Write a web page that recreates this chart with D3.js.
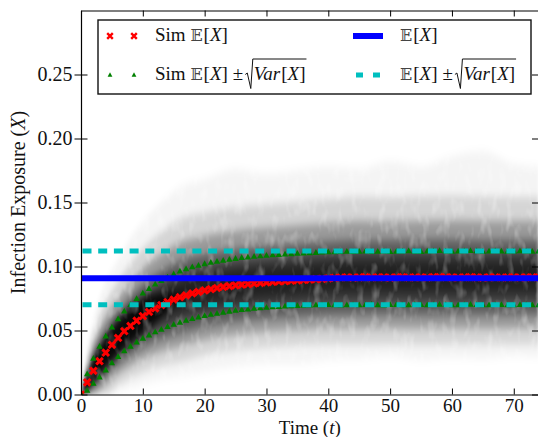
<!DOCTYPE html>
<html><head><meta charset="utf-8">
<script src="https://cdn.jsdelivr.net/npm/d3@7"></script>
<style>
html,body{margin:0;padding:0;background:#fff;}
svg{display:block;}
text{font-family:"Liberation Serif","DejaVu Serif",serif;fill:#111;}
</style></head><body>
<svg id="chart" width="538" height="437"></svg>
<script>
// ---------------- data ----------------
const xTicks = [0, 10, 20, 30, 40, 50, 60, 70];
const yTicks = [0.00, 0.05, 0.10, 0.15, 0.20, 0.25];

// simulated mean E[X] at t = 0..74
const simMean = [0, .0095, .0185, .0260, .0327, .0388, .0442, .0495, .0536, .0577,
  .0613, .0645, .0673, .0699, .0722, .0742, .0760, .0775, .0790, .0802,
  .0813, .0823, .0832, .0840, .0847, .0853, .0858, .0863, .0868, .0872,
  .0876, .0880, .0883, .0886, .0889, .0892, .0895, .0898, .0901, .0904,
  .0907, .0911, .0914, .0916, .0913, .0915, .0917, .0914, .0916, .0915,
  .0913, .0916, .0917, .0914, .0915, .0916, .0914, .0917, .0918, .0916,
  .0915, .0914, .0916, .0917, .0915, .0913, .0915, .0916, .0914, .0915,
  .0916, .0914, .0915, .0916, .0915];
// simulated mean + sqrt(var)
const simUpper = [0, .0160, .0280, .0375, .0455, .0525, .0590, .0650, .0700, .0748,
  .0790, .0826, .0860, .0888, .0915, .0940, .0962, .0980, .0995, .1008,
  .1020, .1030, .1039, .1047, .1054, .1061, .1067, .1072, .1077, .1081,
  .1085, .1089, .1092, .1095, .1098, .1101, .1104, .1106, .1108, .1110,
  .1112, .1113, .1115, .1117, .1114, .1116, .1119, .1115, .1117, .1118,
  .1114, .1116, .1119, .1121, .1117, .1115, .1118, .1120, .1122, .1119,
  .1116, .1118, .1121, .1123, .1120, .1117, .1119, .1121, .1118, .1116,
  .1119, .1120, .1118, .1117, .1119];
// simulated mean - sqrt(var)
const simLower = [0, .0030, .0085, .0135, .0190, .0245, .0295, .0340, .0375, .0408,
  .0438, .0463, .0487, .0508, .0528, .0546, .0562, .0577, .0591, .0603,
  .0614, .0624, .0633, .0641, .0649, .0655, .0661, .0666, .0671, .0675,
  .0679, .0683, .0686, .0689, .0691, .0693, .0695, .0697, .0698, .0699,
  .0700, .0699, .0697, .0699, .0701, .0698, .0700, .0702, .0699, .0697,
  .0700, .0701, .0698, .0699, .0702, .0700, .0698, .0701, .0703, .0700,
  .0698, .0699, .0701, .0702, .0700, .0698, .0699, .0701, .0700, .0698,
  .0699, .0701, .0700, .0698, .0699];
const simTime = d3.range(simMean.length);

// theoretical values
const theoryMean = 0.0908;
const theoryUpper = 0.1121;
const theoryLower = 0.0701;

// envelope of the simulated trajectories
const bandTime = [0, 1, 2, 3, 4, 6, 8, 10, 13, 16, 20, 25, 30, 35, 40, 45, 50, 55, 60, 65, 70, 74];
const band1Lo = [0, 0, 0, 0, 0, .002, .005, .008, .012, .014, .018, .022, .024, .024, .027, .028, .030, .027, .029, .028, .030, .029];
const band1Hi = [0, .036, .058, .075, .088, .105, .122, .135, .150, .162, .168, .176, .172, .175, .178, .176, .182, .178, .186, .190, .180, .178];
const band2Lo = [0, 0, 0, 0, 0, .0072, .0129, .0173, .0224, .0253, .0306, .0346, .0369, .0382, .0392, .0390, .0394, .0388, .0391, .0389, .0393, .0390];
const band2Hi = [0, .0288, .0479, .062, .0726, .0886, .1025, .1141, .1269, .1369, .1422, .1462, .1485, .1504, .1525, .1545, .1540, .1548, .1552, .1546, .1543, .1545];
const band3Lo = [0, 0, .0001, .0032, .0074, .0161, .0226, .0279, .0338, .0374, .0427, .0467, .0490, .0504, .0516, .0516, .0518, .0514, .0517, .0515, .0518, .0516];
const band3Hi = [0, .0230, .0391, .0512, .0606, .0753, .0878, .0983, .1098, .1186, .1239, .1279, .1302, .1320, .1340, .1356, .1352, .1358, .1360, .1355, .1354, .1356];
const band4Lo = [0, .0002, .0048, .0092, .0141, .0235, .0308, .0367, .0433, .0476, .0529, .0569, .0592, .0606, .0619, .0621, .0623, .0620, .0622, .0621, .0623, .0621];
const band4Hi = [0, .0184, .0322, .0428, .0513, .0649, .0764, .0859, .0965, .1044, .1097, .1137, .1160, .1178, .1195, .1209, .1207, .1211, .1212, .1208, .1209, .1209];
const band5Lo = [0, .0035, .0097, .0152, .0207, .0309, .0389, .0455, .0528, .0577, .0630, .0670, .0693, .0708, .0722, .0726, .0727, .0725, .0726, .0727, .0726, .0726];
const band5Hi = [0, .0152, .0273, .0368, .0447, .0575, .0683, .0771, .0870, .0943, .0996, .1036, .1059, .1076, .1092, .1104, .1103, .1105, .1106, .1104, .1104, .1104];
const band6Lo = [0, .0061, .0136, .0200, .0260, .0368, .0455, .0525, .0604, .0659, .0712, .0752, .0775, .0790, .0804, .0810, .0811, .0809, .0810, .0811, .0810, .0810];
const band6Hi = [0, .0129, .0239, .0326, .0400, .0523, .0626, .0710, .0804, .0872, .0925, .0965, .0988, .1004, .1020, .1031, .1030, .1032, .1033, .1031, .1031, .1031];
// dense core of trajectories at early times
const coreTime = [0, 1, 2, 3, 4, 6, 8, 10, 13, 16, 20];
const coreLo = [0, .0030, .0090, .0145, .0200, .0300, .0390, .0470, .0600, .0740, .0813];
const coreHi = [0, .0155, .0280, .0375, .0455, .0590, .0680, .0750, .0790, .0785, .0813];

// ---------------- chart ----------------
const svg = d3.select("#chart");
const L = 81, R = 538.5, T = 10.5, B = 394.5;
const x = d3.scaleLinear().domain([0, 74]).range([L, R]);
const y = d3.scaleLinear().domain([0, 0.30]).range([B, T]);

const defs = svg.append("defs");
defs.append("clipPath").attr("id", "clip")
  .append("rect").attr("x", L).attr("y", T).attr("width", R - L).attr("height", B - T);
const filt = defs.append("filter").attr("id", "soft")
  .attr("filterUnits", "userSpaceOnUse").attr("x", 0).attr("y", 0).attr("width", 560).attr("height", 437);
filt.append("feGaussianBlur").attr("in", "SourceGraphic").attr("stdDeviation", "1.5 4.5").attr("result", "b");
filt.append("feTurbulence").attr("type", "fractalNoise").attr("baseFrequency", "0.14 0.06")
  .attr("numOctaves", 2).attr("seed", 3).attr("result", "n");
filt.append("feColorMatrix").attr("in", "n").attr("type", "matrix")
  .attr("values", "0 0 0 0 0  0 0 0 0 0  0 0 0 0 0  0 0 0 -0.8 1.4").attr("result", "na");
filt.append("feComposite").attr("in", "b").attr("in2", "na").attr("operator", "in");

const plot = svg.append("g").attr("clip-path", "url(#clip)");

// trajectory cloud as stacked envelopes
const area = d3.area().x(d => x(d.t)).y0(d => y(d.lo)).y1(d => y(d.hi)).curve(d3.curveMonotoneX);
const cloud = plot.append("g").attr("filter", "url(#soft)");
const bands = [
  [band1Lo, band1Hi, 0.045],
  [band2Lo, band2Hi, 0.13],
  [band3Lo, band3Hi, 0.28],
  [band4Lo, band4Hi, 0.38],
  [band5Lo, band5Hi, 0.42],
  [band6Lo, band6Hi, 0.42]
];
bands.forEach(([lo, hi, op]) => {
  const d = bandTime.map((t, i) => ({t, lo: lo[i], hi: hi[i]}));
  cloud.append("path").attr("d", area(d)).attr("fill", "#000").attr("fill-opacity", op);
});
cloud.append("path")
  .attr("d", area(coreTime.map((t, i) => ({t, lo: coreLo[i], hi: coreHi[i]}))))
  .attr("fill", "#000").attr("fill-opacity", 0.75);

const xMark = "M-3.3,-3.3L3.3,3.3M-3.3,3.3L3.3,-3.3";
const triMark = "M0,-3.6L3.2,2.2L-3.2,2.2Z";

// red X markers: simulated mean
plot.append("g").selectAll("path").data(simTime).join("path")
  .attr("transform", t => `translate(${x(t)},${y(simMean[t])})`)
  .attr("d", xMark).attr("stroke", "#ff0000").attr("stroke-width", 3).attr("fill", "none");

// green triangles: simulated mean +/- sd
const gTri = plot.append("g");
gTri.selectAll("path.u").data(simTime).join("path").attr("class", "u")
  .attr("transform", t => `translate(${x(t)},${y(simUpper[t])})`)
  .attr("d", triMark).attr("fill", "#008000");
gTri.selectAll("path.l").data(simTime).join("path").attr("class", "l")
  .attr("transform", t => `translate(${x(t)},${y(simLower[t])})`)
  .attr("d", triMark).attr("fill", "#008000");

// theoretical mean
plot.append("line").attr("x1", x(0)).attr("x2", x(74))
  .attr("y1", y(theoryMean)).attr("y2", y(theoryMean))
  .attr("stroke", "#0000ff").attr("stroke-width", 6);
// theoretical mean +/- sd
[theoryUpper, theoryLower].forEach(v => {
  plot.append("line").attr("x1", x(0) + 1.5).attr("x2", x(74))
    .attr("y1", y(v)).attr("y2", y(v))
    .attr("stroke", "#00bfbf").attr("stroke-width", 5).attr("stroke-dasharray", "9,6.7");
});

// ---------------- axes ----------------
const fmt = d3.format(".2f");
const gx = svg.append("g").attr("transform", `translate(0,${B})`)
  .call(d3.axisBottom(x).tickValues(xTicks).tickSizeInner(-6).tickSizeOuter(0).tickPadding(4));
const gxt = svg.append("g").attr("transform", `translate(0,${T})`)
  .call(d3.axisTop(x).tickValues(xTicks).tickSizeInner(-6).tickSizeOuter(0).tickFormat(""));
const gy = svg.append("g").attr("transform", `translate(${L},0)`)
  .call(d3.axisLeft(y).tickValues(yTicks).tickFormat(fmt).tickSizeInner(6.5).tickSizeOuter(0).tickPadding(2));
gy.selectAll(".tick").append("line").attr("x2", 6.5).attr("stroke", "#000");
const gyr = svg.append("g").attr("transform", `translate(${R},0)`)
  .call(d3.axisRight(y).tickValues(yTicks).tickSizeInner(-6.5).tickSizeOuter(0).tickFormat(""));
gyr.selectAll(".tick").append("line").attr("x2", 6.5).attr("stroke", "#000");

[gx, gxt, gy, gyr].forEach(g => {
  g.select(".domain").attr("stroke", "#000").attr("stroke-width", 1.2);
  g.selectAll(".tick line").attr("stroke", "#000").attr("stroke-width", 1);
  g.selectAll("text").attr("font-family", "Liberation Serif, DejaVu Serif, serif")
    .attr("font-size", 20).attr("fill", "#111");
});
gx.selectAll("text").attr("font-size", 19);

// axis labels
const xl = svg.append("text").attr("x", (L + R) / 2).attr("y", 434)
  .attr("text-anchor", "middle").attr("font-size", 19);
xl.append("tspan").text("Time (");
xl.append("tspan").attr("font-style", "italic").text("t");
xl.append("tspan").text(")");

const yl = svg.append("text").attr("transform", `translate(25,${(T + B) / 2}) rotate(-90)`)
  .attr("text-anchor", "middle").attr("font-size", 20);
yl.append("tspan").text("Infection Exposure (");
yl.append("tspan").attr("font-style", "italic").text("X");
yl.append("tspan").text(")");

// ---------------- legend ----------------
const lg = svg.append("g");
lg.append("rect").attr("x", 98).attr("y", 20).attr("width", 433).attr("height", 74)
  .attr("fill", "#fff").attr("stroke", "#111").attr("stroke-width", 1.4);

function mathLabel(xp, yb, sim, pm) {
  const t = lg.append("text").attr("x", xp).attr("y", yb).attr("font-size", 19);
  if (sim) t.append("tspan").text("Sim ");
  t.append("tspan").attr("font-family", "DejaVu Serif, DejaVu Sans, serif").attr("font-size", 16).attr("fill", "#444").text("𝔼");
  t.append("tspan").attr("dx", 1).text("[");
  t.append("tspan").attr("font-style", "italic").text("X");
  t.append("tspan").text("]");
  if (pm) {
    t.append("tspan").attr("dx", 5).text("±");
    const w = t.node().getComputedTextLength();
    const x0 = xp + w + 8;
    const t2 = lg.append("text").attr("x", x0 + 8.5).attr("y", yb).attr("font-size", 19);
    t2.append("tspan").attr("font-style", "italic").text("Var");
    t2.append("tspan").attr("dx", 1).text("[");
    t2.append("tspan").attr("font-style", "italic").text("X");
    t2.append("tspan").text("]");
    const w2 = t2.node().getComputedTextLength();
    lg.append("path")
      .attr("d", `M${x0},${yb - 5}L${x0 + 2},${yb - 6.5}L${x0 + 5.5},${yb + 9}L${x0 + 7.5},${yb - 20.5}H${x0 + 8.5 + w2 + 2}`)
      .attr("fill", "none").attr("stroke", "#111").attr("stroke-width", 1);
  }
}
// entries
[110, 134].forEach(px => {
  lg.append("path").attr("transform", `translate(${px},36) scale(0.85)`).attr("d", xMark)
    .attr("stroke", "#ff0000").attr("stroke-width", 2.8).attr("fill", "none");
  lg.append("path").attr("transform", `translate(${px},75) scale(0.75)`).attr("d", triMark)
    .attr("fill", "#008000");
});
mathLabel(155, 41, true, false);
mathLabel(155, 79.5, true, true);
lg.append("line").attr("x1", 353).attr("x2", 383).attr("y1", 36).attr("y2", 36)
  .attr("stroke", "#0000ff").attr("stroke-width", 6);
lg.append("line").attr("x1", 356).attr("x2", 380).attr("y1", 75).attr("y2", 75)
  .attr("stroke", "#00bfbf").attr("stroke-width", 5).attr("stroke-dasharray", "7,10");
mathLabel(400, 41, false, false);
mathLabel(400, 79.5, false, true);
</script>
</body></html>
